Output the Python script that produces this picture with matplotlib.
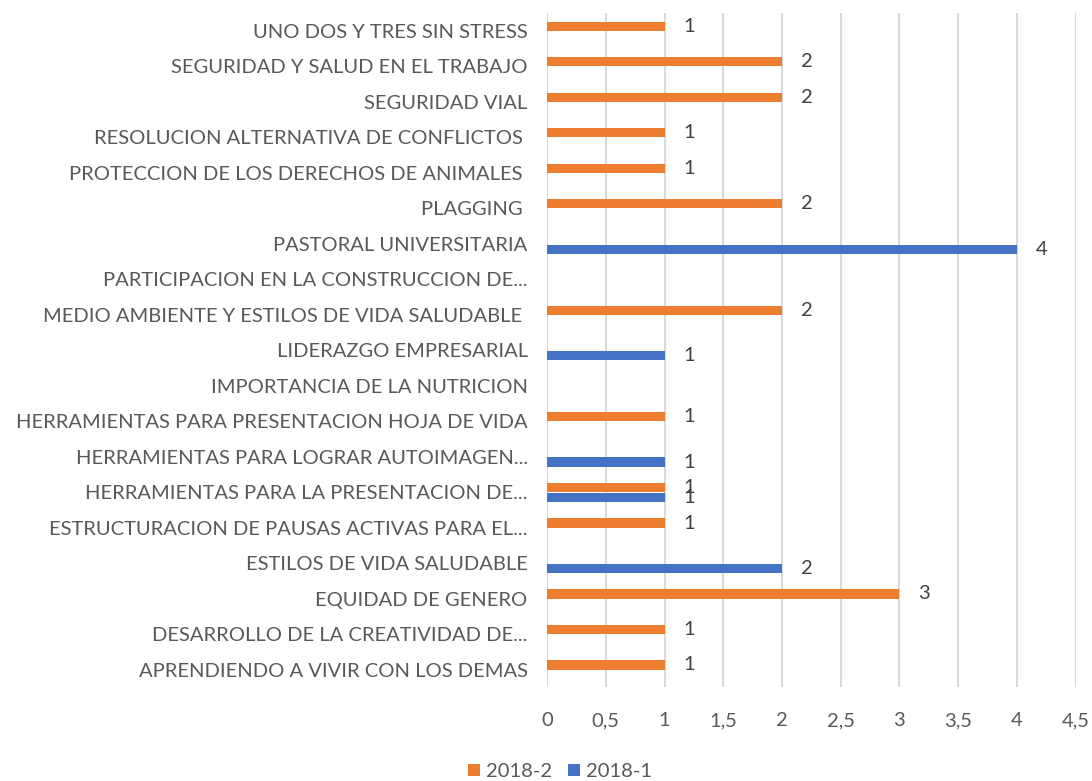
import matplotlib.pyplot as plt
import numpy as np

plt.rcParams['font.family'] = ['Lato', 'DejaVu Sans']

# Data (bottom to top) #########################################################
categories = [
    "APRENDIENDO A VIVIR CON LOS DEMAS",
    "DESARROLLO DE LA CREATIVIDAD DE...",
    "EQUIDAD DE GENERO",
    "ESTILOS DE VIDA SALUDABLE",
    "ESTRUCTURACION DE PAUSAS ACTIVAS PARA EL...",
    "HERRAMIENTAS PARA LA PRESENTACION DE...",
    "HERRAMIENTAS PARA LOGRAR AUTOIMAGEN...",
    "HERRAMIENTAS PARA PRESENTACION HOJA DE VIDA",
    "IMPORTANCIA DE LA NUTRICION",
    "LIDERAZGO EMPRESARIAL",
    "MEDIO AMBIENTE Y ESTILOS DE VIDA SALUDABLE ",
    "PARTICIPACION EN LA CONSTRUCCION DE...",
    "PASTORAL UNIVERSITARIA",
    "PLAGGING ",
    "PROTECCION DE LOS DERECHOS DE ANIMALES ",
    "RESOLUCION ALTERNATIVA DE CONFLICTOS ",
    "SEGURIDAD VIAL",
    "SEGURIDAD Y SALUD EN EL TRABAJO",
    "UNO DOS Y TRES SIN STRESS",
]
s2018_2 = [1, 1, 3, None, 1, 1, None, 1, None, None, 2, None, None, 2, 1, 1, 2, 2, 1]
s2018_1 = [None, None, None, 2, None, 1, 1, None, None, 1, None, None, 4, None, None, None, None, None, None]
xticks = np.arange(0, 4.51, 0.5)

orange = "#ED7D31"
blue = "#4472C4"
txt = "#595959"
fs = 14.5

fig = plt.figure(figsize=(10.92, 7.81), dpi=100)
ax = fig.add_axes([0.501, 0.120, 0.484, 0.863])

y = np.arange(len(categories))
h = 0.26
off2, off1 = 0.13, -0.15
v2 = np.array([np.nan if v is None else v for v in s2018_2], dtype=float)
v1 = np.array([np.nan if v is None else v for v in s2018_1], dtype=float)
b2 = ax.barh(y + off2, np.nan_to_num(v2), height=h, color=orange, label="2018-2", zorder=3)
b1 = ax.barh(y + off1, np.nan_to_num(v1), height=h, color=blue, label="2018-1", zorder=3)

for yy, v in zip(y + off2, v2):
    if not np.isnan(v):
        ax.text(v + 0.16, yy, f"{v:g}", va="center", ha="left", fontsize=fs, color="#404040")
for yy, v in zip(y + off1, v1):
    if not np.isnan(v):
        ax.text(v + 0.16, yy, f"{v:g}", va="center", ha="left", fontsize=fs, color="#404040")

ax.set_ylim(-0.5, len(categories) - 0.5)
ax.set_xlim(0, 4.5)
ax.set_yticks(y)
ax.set_yticklabels(categories, fontsize=fs, color=txt)
ax.set_xticks(xticks)
ax.set_xticklabels([f"{t:g}".replace(".", ",") for t in xticks], fontsize=fs, color=txt)
ax.tick_params(axis="both", length=0)
ax.tick_params(axis="y", pad=14)
ax.tick_params(axis="x", pad=18)
ax.grid(axis="x", color="#D9D9D9", linewidth=1.5, zorder=0)
for s in ax.spines.values():
    s.set_visible(False)

fig.legend(handles=[b2, b1], loc="lower center", bbox_to_anchor=(0.513, -0.022), ncol=2,
           frameon=False, fontsize=fs, labelcolor=txt, handlelength=0.6, handleheight=0.6,
           handletextpad=0.3, columnspacing=0.8)

fig.savefig("out.png", dpi=100)
